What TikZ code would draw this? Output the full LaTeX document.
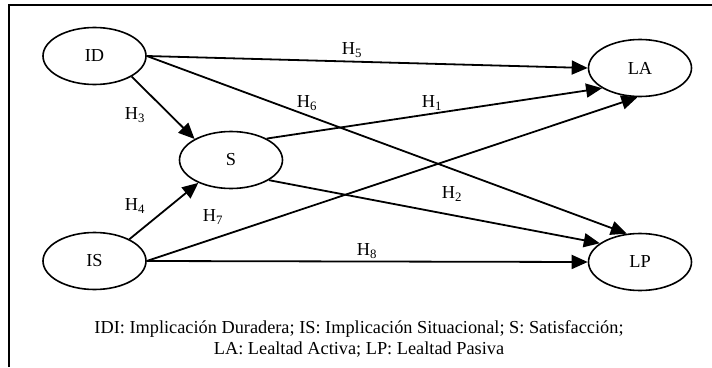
\documentclass[tikz,border=0pt]{standalone}
\usepackage{fontspec}
\setmainfont{Liberation Serif}
\usetikzlibrary{shapes.geometric,arrows.meta}

\begin{document}
\begin{tikzpicture}[x=1pt,y=-1pt,>={Triangle[length=16pt,width=14pt]},
    every node/.style={font=\fontsize{18.3}{20.5}\selectfont},
    var/.style={draw,ellipse,line width=1.6pt,minimum width=103pt,minimum height=57pt,inner sep=0pt}]
    \useasboundingbox (0,0) rectangle (712,367);
    % Frame (cut at right and bottom)
    \draw[line width=2pt] (9,367) -- (9,4.5) -- (712,4.5);
    % Variables
    \node[var] (ID) at (94.5,56) {ID};
    \node[var] (S) at (231,160) {S};
    \node[var] (IS) at (94.5,261) {IS};
    \node[var] (LA) at (640,68) {LA};
    \node[var] (LP) at (640,262) {LP};
    % Hypotheses
    \foreach \a/\b in {ID.east/LA.west, ID.east/LP.115, ID.-29/S.150,
      IS.32/S.215, S.31/LA.208, IS.east/LA.265, S.-28/LP.155, IS.east/LP.west}
      \draw[->,line width=1.8pt] (\a) -- (\b);
    % Labels
    \foreach \n/\x/\y in {1/432/103, 2/452/194, 3/135/115, 4/135/206,
      5/352/50, 6/307/103, 7/213/217, 8/367/251}
      \node (h\n) at (\x,\y) {H\textsubscript{\n}};
    % Legend
    \node[align=center] (leyenda) at (359,339)
      {IDI: Implicación Duradera; IS: Implicación Situacional; S: Satisfacción;\\
       LA: Lealtad Activa; LP: Lealtad Pasiva};
\end{tikzpicture}
\end{document}
